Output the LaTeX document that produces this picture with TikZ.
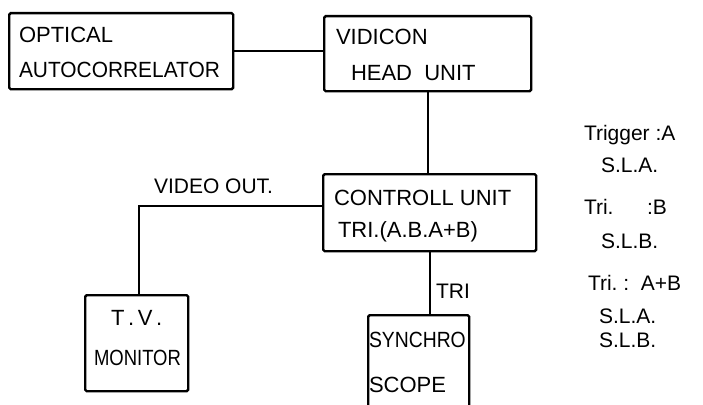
\documentclass[tikz,border=0pt]{standalone}
\usepackage{fontspec}
\setmainfont{Liberation Sans}
\begin{document}
\begin{tikzpicture}[x=1pt, y=-1pt, line width=2pt]
    \def\boxFont{\fontsize{22}{26}\selectfont}
    \def\noteFont{\fontsize{21}{24}\selectfont}

    \tikzset{
        unitBox/.style={draw, line width=2.4pt, rounded corners=1.5pt, inner sep=0pt, anchor=north west},
        boxText/.style={anchor=base west, inner sep=0pt, font=\boxFont},
        noteText/.style={anchor=base west, inner sep=0pt, font=\noteFont}
    }

    % Page frame
    \useasboundingbox (0,0) rectangle (703,404);
    \clip (0,0) rectangle (703,404);

    % Units
    \node[unitBox, minimum width=224pt, minimum height=76pt] (optical) at (8,12) {};
    \node[unitBox, minimum width=207pt, minimum height=75pt] (vidicon) at (323,15) {};
    \node[unitBox, minimum width=213pt, minimum height=77pt] (control) at (322,173) {};
    \node[unitBox, minimum width=103pt, minimum height=96pt] (tv) at (84,294) {};
    \node[unitBox, minimum width=101pt, minimum height=120pt] (synchro) at (367,314) {};

    % Unit texts
    \node[boxText] (opticalA) at (18,43) {OPTICAL};
    \node[boxText] (opticalB) at (18,77) {\scalebox{0.95}[1]{AUTOCORRELATOR}};
    \node[boxText] (vidiconA) at (335,45) {VIDICON};
    \node[boxText] (vidiconB) at (350,80) {HEAD\ \ UNIT};
    \node[boxText] (controlA) at (333,205) {CONTROLL UNIT};
    \node[boxText] (controlB) at (337,237) {TRI.(A.B.A+B)};
    \node[boxText] (tvA) at (110,325) {T\,.\,V\,.};
    \node[boxText] (tvB) at (93,365) {\scalebox{0.84}[1]{MONITOR}};
    \node[boxText] (synchroA) at (368,347) {\scalebox{0.88}[1]{SYNCHRO}};
    \node[boxText] (synchroB) at (368,392) {SCOPE};

    % Connections
    \draw (optical.east) -- (optical.east -| vidicon.west);
    \draw (vidicon.south) -- (vidicon.south |- control.north);
    \draw (control.south) -- (control.south |- synchro.north);
    \draw ([yshift=6.5pt]control.west) -| ([xshift=2.5pt]tv.north);

    % Line labels
    \node[boxText, font=\fontsize{21}{24}\selectfont] (videoOut) at (153,193) {VIDEO OUT.};
    \node[boxText, font=\fontsize{21}{24}\selectfont] (triLabel) at (435,298) {TRI};

    % Trigger notes
    \node[noteText] (noteA) at (583,140) {Trigger\ :A};
    \node[noteText] (noteAs) at (600,172) {S.L.A.};
    \node[noteText] (noteB) at (583,214) {Tri.\hspace{1.6em}:B};
    \node[noteText] (noteBs) at (600,248) {S.L.B.};
    \node[noteText] (noteAB) at (587,290) {Tri.\ :\ \ A+B};
    \node[noteText] (noteABa) at (598,323) {S.L.A.};
    \node[noteText] (noteABb) at (598,347) {S.L.B.};

\end{tikzpicture}
\end{document}
